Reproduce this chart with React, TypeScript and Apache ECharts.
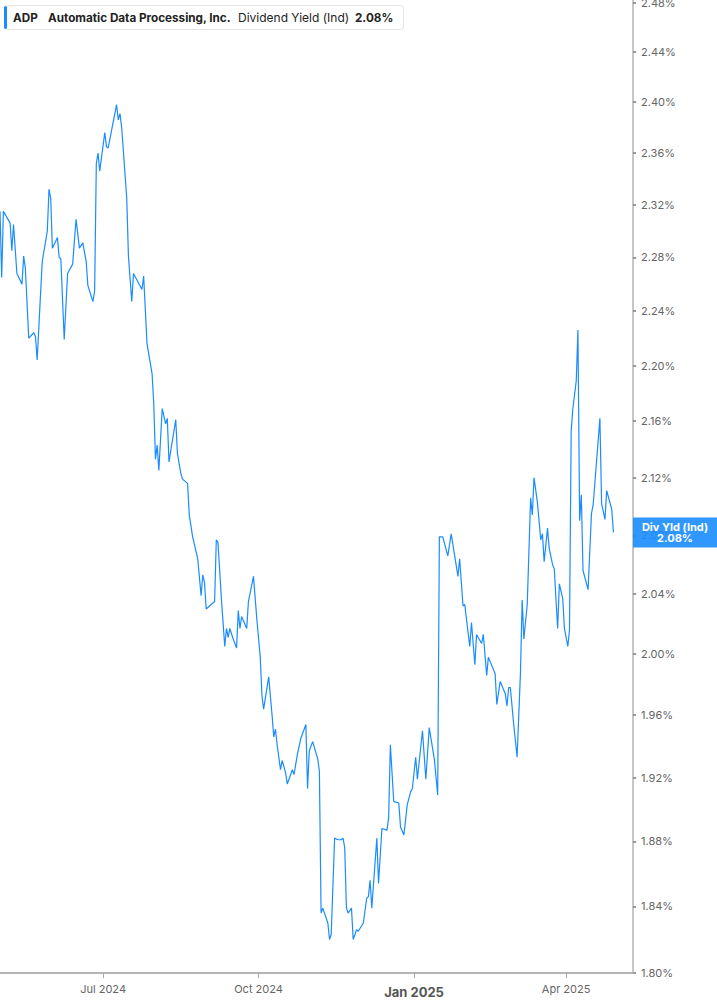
import React, { useEffect, useRef } from 'react';
import * as echarts from 'echarts';

// trading dates (one point per visible vertex)
const tradeDates = [
  '2024-05-01', '2024-05-02', '2024-05-03', '2024-05-07', '2024-05-08', '2024-05-09', '2024-05-11', '2024-05-14',
  '2024-05-15', '2024-05-16', '2024-05-18', '2024-05-21', '2024-05-22', '2024-05-23', '2024-05-25', '2024-05-26',
  '2024-05-29', '2024-05-30', '2024-05-31', '2024-06-01', '2024-06-04', '2024-06-05', '2024-06-06', '2024-06-08',
  '2024-06-10', '2024-06-13', '2024-06-15', '2024-06-17', '2024-06-19', '2024-06-21', '2024-06-22', '2024-06-25',
  '2024-06-26', '2024-06-27', '2024-06-28', '2024-06-29', '2024-07-02', '2024-07-03', '2024-07-04', '2024-07-09',
  '2024-07-10', '2024-07-11', '2024-07-12', '2024-07-15', '2024-07-16', '2024-07-18', '2024-07-19', '2024-07-24',
  '2024-07-25', '2024-07-27', '2024-07-30', '2024-07-31', '2024-08-01', '2024-08-02', '2024-08-03', '2024-08-05',
  '2024-08-07', '2024-08-08', '2024-08-09', '2024-08-13', '2024-08-14', '2024-08-16', '2024-08-17', '2024-08-20',
  '2024-08-21', '2024-08-23', '2024-08-24', '2024-08-26', '2024-08-28', '2024-08-29', '2024-08-30', '2024-08-31',
  '2024-09-03', '2024-09-05', '2024-09-06', '2024-09-07', '2024-09-09', '2024-09-11', '2024-09-12', '2024-09-13',
  '2024-09-14', '2024-09-16', '2024-09-18', '2024-09-19', '2024-09-20', '2024-09-21', '2024-09-24', '2024-09-25',
  '2024-09-28', '2024-09-30', '2024-10-02', '2024-10-03', '2024-10-04', '2024-10-07', '2024-10-09', '2024-10-10',
  '2024-10-11', '2024-10-12', '2024-10-14', '2024-10-15', '2024-10-17', '2024-10-18', '2024-10-21', '2024-10-22',
  '2024-10-24', '2024-10-26', '2024-10-29', '2024-10-30', '2024-10-31', '2024-11-02', '2024-11-05', '2024-11-06',
  '2024-11-07', '2024-11-08', '2024-11-11', '2024-11-12', '2024-11-13', '2024-11-15', '2024-11-17', '2024-11-19',
  '2024-11-20', '2024-11-21', '2024-11-22', '2024-11-23', '2024-11-25', '2024-11-26', '2024-11-28', '2024-11-29',
  '2024-12-02', '2024-12-04', '2024-12-05', '2024-12-06', '2024-12-07', '2024-12-10', '2024-12-11', '2024-12-13',
  '2024-12-16', '2024-12-17', '2024-12-18', '2024-12-20', '2024-12-23', '2024-12-24', '2024-12-26', '2024-12-28',
  '2024-12-30', '2024-12-31', '2025-01-02', '2025-01-03', '2025-01-06', '2025-01-08', '2025-01-10', '2025-01-13',
  '2025-01-15', '2025-01-16', '2025-01-18', '2025-01-21', '2025-01-23', '2025-01-27', '2025-01-28', '2025-01-30',
  '2025-01-31', '2025-02-03', '2025-02-04', '2025-02-06', '2025-02-07', '2025-02-10', '2025-02-11', '2025-02-13',
  '2025-02-14', '2025-02-18', '2025-02-19', '2025-02-21', '2025-02-24', '2025-02-25', '2025-02-26', '2025-02-27',
  '2025-03-01', '2025-03-03', '2025-03-05', '2025-03-06', '2025-03-07', '2025-03-09', '2025-03-11', '2025-03-12',
  '2025-03-13', '2025-03-15', '2025-03-17', '2025-03-18', '2025-03-19', '2025-03-21', '2025-03-22', '2025-03-24',
  '2025-03-25', '2025-03-27', '2025-03-28', '2025-03-30', '2025-03-31', '2025-04-02', '2025-04-03', '2025-04-04',
  '2025-04-05', '2025-04-07', '2025-04-08', '2025-04-09', '2025-04-10', '2025-04-11', '2025-04-14', '2025-04-16',
  '2025-04-17', '2025-04-21', '2025-04-22', '2025-04-24', '2025-04-25', '2025-04-28', '2025-04-29',
];

// dividend yield (ind), %
const divYield = [
  2.315, 2.265, 2.315, 2.306, 2.285, 2.305, 2.268, 2.260,
  2.281, 2.272, 2.220, 2.224, 2.221, 2.204, 2.253, 2.277,
  2.300, 2.332, 2.325, 2.287, 2.295, 2.280, 2.279, 2.219,
  2.268, 2.275, 2.309, 2.287, 2.291, 2.277, 2.259, 2.247,
  2.255, 2.352, 2.360, 2.346, 2.376, 2.365, 2.364, 2.398,
  2.386, 2.391, 2.380, 2.325, 2.281, 2.247, 2.268, 2.256,
  2.266, 2.216, 2.194, 2.172, 2.133, 2.143, 2.125, 2.169,
  2.158, 2.162, 2.131, 2.161, 2.137, 2.123, 2.119, 2.116,
  2.094, 2.079, 2.074, 2.064, 2.039, 2.053, 2.048, 2.030,
  2.033, 2.035, 2.077, 2.075, 2.037, 2.005, 2.017, 2.011,
  2.017, 2.010, 2.004, 2.029, 2.017, 2.025, 2.017, 2.035,
  2.052, 2.023, 1.998, 1.973, 1.964, 1.985, 1.960, 1.946,
  1.951, 1.941, 1.925, 1.931, 1.923, 1.916, 1.925, 1.922,
  1.935, 1.945, 1.954, 1.913, 1.937, 1.943, 1.932, 1.924,
  1.836, 1.839, 1.830, 1.820, 1.823, 1.882, 1.881, 1.881,
  1.882, 1.876, 1.839, 1.836, 1.839, 1.820, 1.826, 1.825,
  1.830, 1.845, 1.846, 1.856, 1.839, 1.882, 1.854, 1.888,
  1.887, 1.895, 1.941, 1.905, 1.904, 1.889, 1.884, 1.903,
  1.911, 1.913, 1.933, 1.919, 1.950, 1.919, 1.952, 1.932,
  1.909, 2.079, 2.079, 2.066, 2.081, 2.052, 2.064, 2.032,
  2.033, 2.005, 2.021, 1.993, 2.013, 2.007, 2.013, 1.986,
  1.998, 1.987, 1.967, 1.982, 1.974, 1.966, 1.978, 1.978,
  1.954, 1.933, 1.988, 2.036, 2.010, 2.033, 2.106, 2.094,
  2.120, 2.103, 2.077, 2.081, 2.062, 2.085, 2.071, 2.060,
  2.057, 2.017, 2.047, 2.037, 2.017, 2.005, 2.016, 2.153,
  2.169, 2.189, 2.226, 2.090, 2.108, 2.056, 2.043, 2.095,
  2.101, 2.162, 2.102, 2.091, 2.111, 2.098, 2.082,
];

const yTicks = [1.80, 1.84, 1.88, 1.92, 1.96, 2.00, 2.04, 2.08, 2.12, 2.16, 2.20, 2.24, 2.28, 2.32, 2.36, 2.40, 2.44, 2.48];
const xTicks = ['2024-07-01', '2024-10-01', '2025-01-01', '2025-04-01'];
const monthNames = ['Jan', 'Feb', 'Mar', 'Apr', 'May', 'Jun', 'Jul', 'Aug', 'Sep', 'Oct', 'Nov', 'Dec'];

const BLUE = '#1a8cff';
const FONT = 'Inter, "Noto Sans", sans-serif';

const toTime = (s: string) => {
  const [y, m, d] = s.split(/[- :]/).map(Number);
  return new Date(y, m - 1, d).getTime();
};

const App: React.FC = () => {
  const chartRef = useRef<HTMLDivElement>(null);

  useEffect(() => {
    document.body.style.margin = '0';
    if (!chartRef.current) return;
    const chart = echarts.init(chartRef.current, null, { renderer: 'svg' });

    const last = divYield[divYield.length - 1];
    const lastLabel = last.toFixed(2) + '%';
    const logTicks = yTicks.map(v => Math.log(v));
    const xTickTimes = xTicks.map(toTime);

    const option: any = {
      animation: false,
      textStyle: { fontFamily: FONT },
      grid: { left: 0, right: 84, top: 0, bottom: 32, outerBoundsMode: 'none' },
      xAxis: {
        type: 'value',
        min: toTime('2024-05-01'),
        max: new Date(2025, 4, 10, 14).getTime(),
        axisLine: { show: true, lineStyle: { color: '#b5b5b5', width: 2 } },
        axisTick: { show: true, customValues: xTickTimes, length: 5, lineStyle: { color: '#a8a8a8', width: 1 } },
        axisLabel: {
          customValues: xTickTimes,
          color: '#666',
          fontSize: 11,
          margin: 10,
          formatter: (v: number) => {
            const d = new Date(v);
            const txt = monthNames[d.getMonth()] + ' ' + d.getFullYear();
            return d.getMonth() === 0 ? '{yr|' + txt + '}' : txt;
          },
          rich: {
            yr: { fontSize: 13, fontWeight: 'bold', color: '#555', fontFamily: FONT, padding: [2, 0, 0, 0] }
          }
        },
        splitLine: { show: false }
      },
      yAxis: {
        type: 'value',
        position: 'right',
        min: Math.log(1.8),
        max: Math.log(2.4824),
        axisLine: { show: true, lineStyle: { color: '#b5b5b5', width: 1.5 } },
        axisTick: { show: true, customValues: logTicks, length: 3, lineStyle: { color: '#999', width: 2 } },
        axisLabel: {
          customValues: logTicks,
          color: '#666',
          fontSize: 11,
          margin: 8,
          formatter: (v: number) => Math.exp(v).toFixed(2) + '%'
        },
        splitLine: { show: false }
      },
      series: [{
        name: 'Dividend Yield (Ind)',
        type: 'line',
        data: tradeDates.map((d, i) => [toTime(d), Math.log(divYield[i])]),
        showSymbol: false,
        symbol: 'none',
        lineStyle: { color: BLUE, width: 1.2 },
        itemStyle: { color: BLUE }
      }]
    };

    chart.setOption(option);

    const yPix = chart.convertToPixel({ yAxisIndex: 0 }, Math.log(last)) as number;

    chart.setOption({
      graphic: [
        // header box
        { type: 'rect', z: 100, shape: { x: 4.5, y: 5.5, width: 399, height: 24, r: 3 }, style: { fill: '#fff', stroke: '#e6e6e6', lineWidth: 1 } },
        { type: 'rect', z: 101, shape: { x: 4, y: 6, width: 3, height: 23, r: 1.5 }, style: { fill: BLUE } },
        { type: 'text', z: 102, x: 13, y: 17.5, style: { text: 'ADP', fill: '#222', fontSize: 11.7, fontWeight: 'bold', fontFamily: FONT, verticalAlign: 'middle' } },
        { type: 'text', z: 102, x: 48, y: 17.5, style: { text: 'Automatic Data Processing, Inc.', fill: '#222', fontSize: 11.7, fontWeight: 'bold', fontFamily: FONT, verticalAlign: 'middle' } },
        { type: 'text', z: 102, x: 238, y: 17.5, style: { text: 'Dividend Yield (Ind)', fill: '#222', fontSize: 12, fontFamily: FONT, verticalAlign: 'middle' } },
        { type: 'text', z: 102, x: 355, y: 17.5, style: { text: lastLabel, fill: '#222', fontSize: 11.7, fontWeight: 'bold', fontFamily: FONT, verticalAlign: 'middle' } },
        // last value badge
        { type: 'rect', z: 100, shape: { x: 633, y: yPix - 15, width: 90, height: 30 }, style: { fill: 'rgba(26,140,255,0.9)' } },
        { type: 'text', z: 102, x: 675, y: yPix - 5.5, style: { text: 'Div Yld (Ind)', fill: '#fff', fontSize: 11, fontWeight: 'bold', fontFamily: FONT, align: 'center', verticalAlign: 'middle' } },
        { type: 'text', z: 102, x: 675, y: yPix + 5.5, style: { text: lastLabel, fill: '#fff', fontSize: 11, fontWeight: 'bold', fontFamily: FONT, align: 'center', verticalAlign: 'middle' } }
      ]
    });

    const handleResize = () => chart.resize();
    window.addEventListener('resize', handleResize);

    return () => {
      window.removeEventListener('resize', handleResize);
      chart.dispose();
    };
  }, []);

  return <div ref={chartRef} style={{ width: 717, height: 1005 }} />;
};

export default App;
